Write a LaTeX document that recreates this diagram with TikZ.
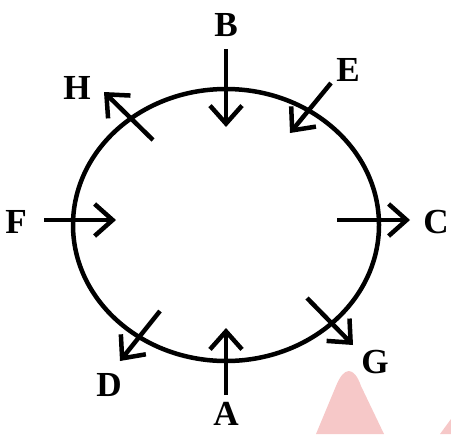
\documentclass[tikz,border=0pt]{standalone}
\usepackage{fontspec}
\setmainfont{Liberation Serif}
\usetikzlibrary{arrows.meta}

\definecolor{wmark}{RGB}{246,200,200}

\begin{document}
\begin{tikzpicture}[x=0.025cm, y=-0.025cm, line width=3.2pt,
  pointer/.style={-{Straight Barb[length=4.5mm, width=8mm]}},
  letter/.style={font=\fontsize{25}{29}\selectfont\bfseries, inner sep=1pt}]
  \useasboundingbox (0,0) rectangle (451,434);

  % watermark
  \fill[wmark] (316,434) -- (336,386) .. controls (344,366) and (354,366) .. (361,386)
    -- (384,434) -- cycle;
  \fill[wmark] (440,434) -- (451,419) -- (451,434) -- cycle;

  % the ring
  \draw (226,225) ellipse [x radius=153, y radius=136];

  % arrows
  \foreach \n/\sx/\sy/\ex/\ey in {B/226/49/226/127, A/226/395/226/328,
      F/44/220/116/220, C/337/220/410/220, E/331/83/290/133,
      H/153/140/104/92, D/160/311/120/361, G/307/298/353/345} {
    \coordinate (\n s) at (\sx,\sy);
    \coordinate (\n e) at (\ex,\ey);
    \draw[pointer] (\n s) -- (\n e);
  }

  % labels
  \foreach \n/\x/\y in {B/226/25, E/348/70, H/77/88, F/16/222,
      C/436/222, G/375/362, D/109/385, A/226/414} {
    \node[letter] (l\n) at (\x,\y) {\n};
  }
\end{tikzpicture}
\end{document}
